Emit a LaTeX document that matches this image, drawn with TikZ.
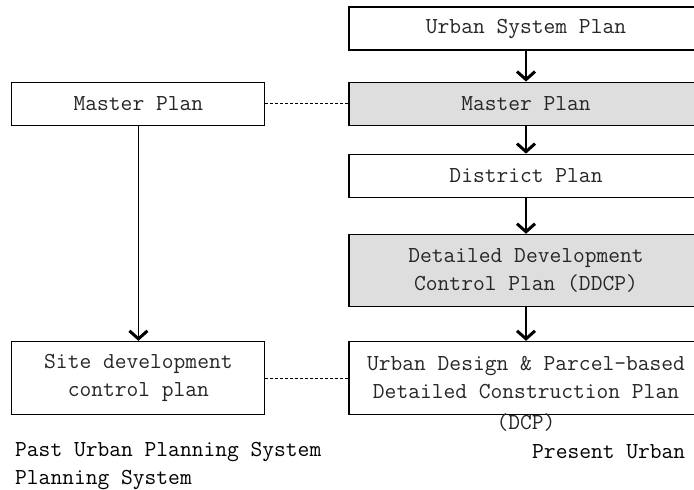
\documentclass[tikz,border=0pt]{standalone}
\usetikzlibrary{positioning}
\usetikzlibrary{arrows.meta}
\tikzset{planbox/.style={draw, line width=1.1pt, align=center, inner sep=0pt,
  text=black!85, minimum width=354pt, minimum height=43pt},
  oldbox/.style={planbox, minimum width=253pt},
  shaded/.style={fill=black!13},
  flow/.style={line width=1.4pt, -{Straight Barb[length=8pt,width=18pt,line width=3pt]}},
  link/.style={line width=0.7pt, dash pattern=on 3pt off 2pt}}

\begin{document}
\begin{tikzpicture}[x=1pt, y=-1pt, font=\ttfamily\fontsize{22.86}{28}\selectfont, node distance=31pt]
\useasboundingbox (0,0) rectangle (694,490);

% present system
\node[planbox] (usp) at (526,28.5) {Urban System Plan};
\node[planbox, shaded, below=31pt of usp] (master) {Master Plan};
\node[planbox, below=28pt of master] (district) {District Plan};
\node[planbox, shaded, minimum height=72pt, below=36pt of district] (ddcp)
  {Detailed Development\\Control Plan (DDCP)};
\node[planbox, minimum height=73pt, below=34pt of ddcp] (ud)
  {Urban Design \& Parcel-based\\Detailed Construction Plan};
\node[text=black!85] (dcp) at ([yshift=-8pt]ud.south) {(DCP)};

% past system
\node[oldbox, left=83pt of master] (oldmaster) {Master Plan};
\node[oldbox, minimum height=73pt, left=83pt of ud] (site)
  {Site development\\control plan};

\draw[flow] (usp) -- (master);
\draw[flow] (master) -- (district);
\draw[flow] (district) -- (ddcp);
\draw[flow] (ddcp) -- (ud);
\draw[flow] (oldmaster) -- (site);

\draw[link] (oldmaster) -- (master);
\draw[link] (site) -- (ud);

\node[anchor=west, align=left, inner sep=0pt] (past) at (15,466)
  {Past Urban Planning System\\Planning System};
\node[anchor=west, inner sep=0pt] (present) at (532,452) {Present Urban};
\end{tikzpicture}
\end{document}
